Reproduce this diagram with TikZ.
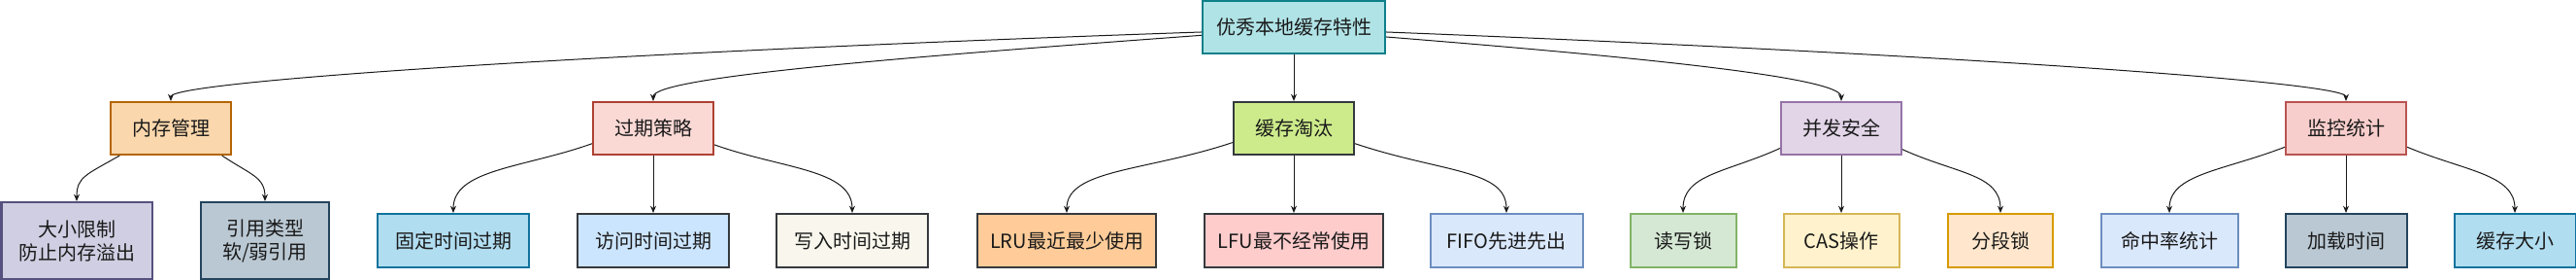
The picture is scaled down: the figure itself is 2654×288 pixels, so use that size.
\documentclass[tikz,border=0pt]{standalone}
\usepackage{fontspec}
\setmainfont{Noto Sans CJK SC}
\usetikzlibrary{arrows.meta}
\definecolor{ink}{HTML}{1A1A1A}
\definecolor{tealfill}{HTML}{B0E3E6}
\definecolor{tealline}{HTML}{0E8088}
\definecolor{amberfill}{HTML}{FAD7AC}
\definecolor{amberline}{HTML}{B46504}
\definecolor{salmonfill}{HTML}{FAD9D5}
\definecolor{salmonline}{HTML}{AE4132}
\definecolor{limefill}{HTML}{CDEB8B}
\definecolor{greyline}{HTML}{36393D}
\definecolor{lilacfill}{HTML}{E1D5E7}
\definecolor{lilacline}{HTML}{9673A6}
\definecolor{rosefill}{HTML}{F8CECC}
\definecolor{roseline}{HTML}{B85450}
\definecolor{slatefill}{HTML}{D0CEE2}
\definecolor{slateline}{HTML}{56517E}
\definecolor{steelfill}{HTML}{BAC8D3}
\definecolor{steelline}{HTML}{23445D}
\definecolor{skyfill}{HTML}{B1DDF0}
\definecolor{skyline}{HTML}{10739E}
\definecolor{icefill}{HTML}{CCE5FF}
\definecolor{creamfill}{HTML}{F9F7ED}
\definecolor{peachfill}{HTML}{FFCC99}
\definecolor{pinkfill}{HTML}{FFCCCC}
\definecolor{bluefill}{HTML}{DAE8FC}
\definecolor{blueline}{HTML}{6C8EBF}
\definecolor{greenfill}{HTML}{D5E8D4}
\definecolor{greenline}{HTML}{82B366}
\definecolor{yellowfill}{HTML}{FFF2CC}
\definecolor{yellowline}{HTML}{D6B656}
\definecolor{orangefill}{HTML}{FFE6CC}
\definecolor{orangeline}{HTML}{D79B00}

\begin{document}
\begin{tikzpicture}[x=0.75pt,y=-0.75pt,
		box/.style={draw, line width=1.5pt, inner sep=0pt, align=center, text=ink, font=\fontsize{15}{18}\selectfont},
		mid/.style={box, minimum width=93pt, minimum height=40.5pt},
		leaf/.style={box, minimum height=41.25pt},
		pair/.style={box, minimum height=59.25pt},
		link/.style={draw=ink, line width=0.75pt, -{Stealth[length=5.5pt,width=4.5pt]}}]
			\useasboundingbox (0,0) rectangle (2654,288);
			\node[box, minimum width=141pt, minimum height=40.5pt, fill=tealfill, draw=tealline](root) at (1333,28) {优秀本地缓存特性};
			\node[mid, fill=amberfill, draw=amberline](mem) at (176,132) {内存管理};
			\node[mid, fill=salmonfill, draw=salmonline](expire) at (673,132) {过期策略};
			\node[mid, fill=limefill, draw=greyline](evict) at (1333,132) {缓存淘汰};
			\node[mid, fill=lilacfill, draw=lilacline](conc) at (1897,132) {并发安全};
			\node[mid, fill=rosefill, draw=roseline](mon) at (2417,132) {监控统计};
			\node[pair, minimum width=116.25pt, fill=slatefill, draw=slateline](sizelim) at (79,247.5) {大小限制\\防止内存溢出};
			\node[pair, minimum width=99pt, fill=steelfill, draw=steelline](ref) at (273,247.5) {引用类型\\软/弱引用};
			\node[leaf, minimum width=117pt, fill=skyfill, draw=skyline](fixed) at (467,247.5) {固定时间过期};
			\node[leaf, minimum width=117pt, fill=icefill, draw=greyline](access) at (673,247.5) {访问时间过期};
			\node[leaf, minimum width=117pt, fill=creamfill, draw=greyline](write) at (878,247.5) {写入时间过期};
			\node[leaf, minimum width=138pt, fill=peachfill, draw=greyline](lru) at (1099,247.5) {LRU最近最少使用};
			\node[leaf, minimum width=138pt, fill=pinkfill, draw=greyline](lfu) at (1333,247.5) {LFU最不经常使用};
			\node[leaf, minimum width=117.75pt, fill=bluefill, draw=blueline](fifo) at (1552,247.5) {FIFO先进先出};
			\node[leaf, minimum width=81.75pt, fill=greenfill, draw=greenline](rwlock) at (1734,247.5) {读写锁};
			\node[leaf, minimum width=89.25pt, fill=yellowfill, draw=yellowline](cas) at (1897,247.5) {CAS操作};
			\node[leaf, minimum width=81pt, fill=orangefill, draw=orangeline](seglock) at (2061,247.5) {分段锁};
			\node[leaf, minimum width=105.75pt, fill=bluefill, draw=blueline](hitrate) at (2235,247.5) {命中率统计};
			\node[leaf, minimum width=93.75pt, fill=steelfill, draw=steelline](loadtime) at (2417,247.5) {加载时间};
			\node[leaf, minimum width=93.75pt, fill=skyfill, draw=skyline](cachesize) at (2591,247.5) {缓存大小};
			\draw[link](root.183) .. controls +(-640,22) and +(0,-20) .. (mem.north);
			\draw[link](root.185.5) .. controls +(-300,22) and +(0,-25) .. (expire.north);
			\draw[link](root) -- (evict);
			\draw[link](root.354.5) .. controls +(250,20) and +(0,-25) .. (conc.north);
			\draw[link](root.357) .. controls +(560,22) and +(0,-20) .. (mon.north);
			\draw[link](mem.208) .. controls +(-35,20) and +(0,-25) .. (sizelim.north);
			\draw[link](mem.332) .. controls +(30,20) and +(0,-25) .. (ref.north);
			\draw[link](expire.194.5) .. controls +(-70,25) and +(0,-45) .. (fixed.north);
			\draw[link](expire) -- (access);
			\draw[link](expire.345.5) .. controls +(70,25) and +(0,-45) .. (write.north);
			\draw[link](evict.193.6) .. controls +(-90,30) and +(0,-45) .. (lru.north);
			\draw[link](evict) -- (lfu);
			\draw[link](evict.346.4) .. controls +(90,30) and +(0,-45) .. (fifo.north);
			\draw[link](conc.198.7) .. controls +(-55,25) and +(0,-40) .. (rwlock.north);
			\draw[link](conc) -- (cas);
			\draw[link](conc.341.3) .. controls +(55,25) and +(0,-40) .. (seglock.north);
			\draw[link](mon.197) .. controls +(-65,25) and +(0,-40) .. (hitrate.north);
			\draw[link](mon) -- (loadtime);
			\draw[link](mon.343) .. controls +(60,25) and +(0,-40) .. (cachesize.north);
		\end{tikzpicture}
\end{document}
